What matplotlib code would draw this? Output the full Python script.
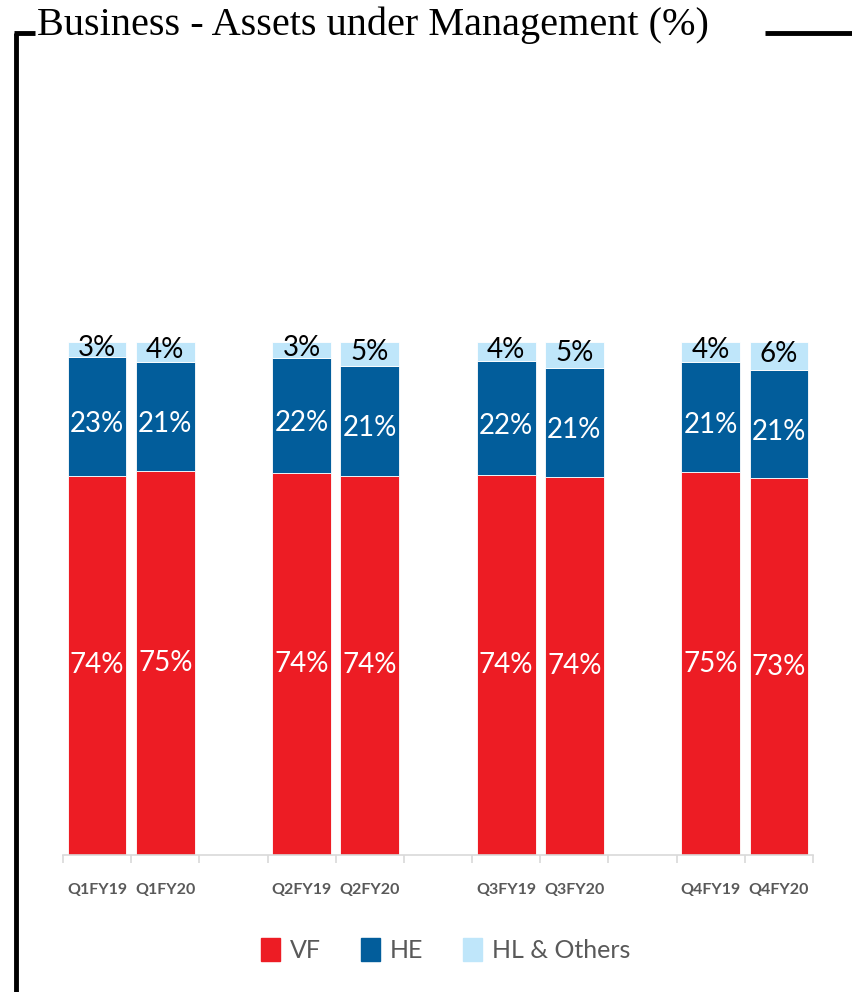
import matplotlib
matplotlib.use("Agg")
import matplotlib.pyplot as plt
from matplotlib import font_manager
from matplotlib.lines import Line2D
from matplotlib.patches import Patch

categories = ["Q1FY19", "Q1FY20", "Q2FY19", "Q2FY20", "Q3FY19", "Q3FY20", "Q4FY19", "Q4FY20"]
vf = [73.9, 74.9, 74.4, 73.9, 74.0, 73.6, 74.6, 73.4]
he = [23.2, 21.2, 22.4, 21.4, 22.2, 21.2, 21.4, 21.0]
hl = [2.9, 3.9, 3.2, 4.7, 3.8, 5.2, 4.0, 5.6]
vf_labels = ["74%", "75%", "74%", "74%", "74%", "74%", "75%", "73%"]
he_labels = ["23%", "21%", "22%", "21%", "22%", "21%", "21%", "21%"]
hl_labels = ["3%", "4%", "3%", "5%", "4%", "5%", "4%", "6%"]
series_names = ["VF", "HE", "HL & Others"]
title = "Business - Assets under Management (%)"

avail = {f.name for f in font_manager.fontManager.ttflist}
narrow = "Liberation Sans Narrow" if "Liberation Sans Narrow" in avail else "Lato"
serif = "Liberation Serif"

RED = "#ED1C24"
BLUE = "#025D9B"
LIGHT = "#BFE6FA"
GRAY = "#595959"

fig = plt.figure(figsize=(8.53, 9.92), dpi=100)
ax = fig.add_axes([63/853, 1-855/992, 750/853, 770/992])

# slot positions: pairs separated by an empty slot
pos = [0, 1, 3, 4, 6, 7, 9, 10]
w = 0.86
bottom_he = [a for a in vf]
bottom_hl = [a + b for a, b in zip(vf, he)]
ax.bar(pos, vf, width=w, color=RED, edgecolor="white", linewidth=0.6)
ax.bar(pos, he, width=w, bottom=bottom_he, color=BLUE, edgecolor="white", linewidth=0.6)
ax.bar(pos, hl, width=w, bottom=bottom_hl, color=LIGHT, edgecolor="white", linewidth=0.6)

for i, p in enumerate(pos):
    ax.text(p, vf[i]/2, vf_labels[i], ha="center", va="center", color="white",
            fontsize=20, family=narrow)
    ax.text(p, vf[i] + he[i]/2 - 1.5, he_labels[i], ha="center", va="center", color="white",
            fontsize=20, family=narrow)
    ax.text(p, bottom_hl[i] + hl[i]/2 + 0.3, hl_labels[i], ha="center", va="center", color="black",
            fontsize=20, family=narrow)

ax.set_xlim(-0.5, 10.5)
ax.set_ylim(0, 150)
ax.set_yticks([])
for s in ["top", "right", "left"]:
    ax.spines[s].set_visible(False)
ax.spines["bottom"].set_color("#D9D9D9")
ax.spines["bottom"].set_linewidth(1.2)
ax.set_xticks(pos)
ax.set_xticklabels(categories, fontsize=11.5, fontweight="bold", color=GRAY, family=narrow)
ax.tick_params(axis="x", which="major", length=0, pad=20)
ax.set_xticks([x - 0.5 for x in range(12)], minor=True)
ax.tick_params(axis="x", which="minor", length=6, color="#D9D9D9", width=1.2)

handles = [Patch(color=RED), Patch(color=BLUE), Patch(color=LIGHT)]
leg = fig.legend(handles, series_names, loc="center", bbox_to_anchor=(446/853, 1-950/992),
                 ncol=3, frameon=False, handlelength=0.75, handleheight=1.0,
                 handletextpad=0.4, columnspacing=1.6, prop={"family": narrow, "size": 18})
for t in leg.get_texts():
    t.set_color(GRAY)

fig.text(37/853, 1-25/992, title, ha="left", va="center", fontsize=29, family=serif, color="black")

lw = 3.5
fig.add_artist(Line2D([16/853, 16/853], [0, 1-33/992], color="black", lw=lw, solid_capstyle="butt"))
fig.add_artist(Line2D([14/853, 35/853], [1-33/992, 1-33/992], color="black", lw=lw, solid_capstyle="butt"))
fig.add_artist(Line2D([765/853, 1], [1-33/992, 1-33/992], color="black", lw=lw, solid_capstyle="butt"))

fig.savefig("out.png", dpi=100)
